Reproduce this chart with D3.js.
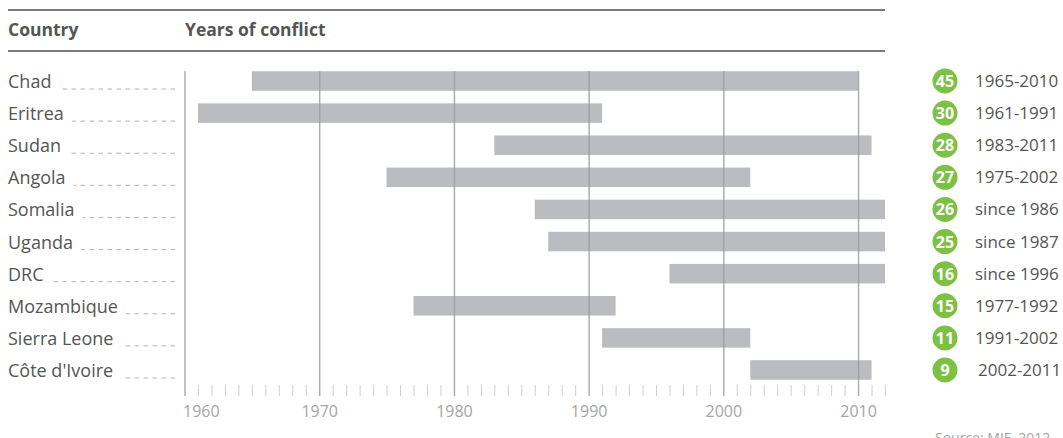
<!DOCTYPE html>
<html>
<head>
<meta charset="utf-8">
<script src="https://cdn.jsdelivr.net/npm/d3@7"></script>
<style>
  html, body { margin: 0; padding: 0; background: #fff; }
  svg { display: block; font-family: 'Open Sans', 'Noto Sans', sans-serif; }
</style>
</head>
<body>
<div id="chart"></div>
<script>
// Conflict data
const countries = ['Chad', 'Eritrea', 'Sudan', 'Angola', 'Somalia', 'Uganda', 'DRC', 'Mozambique', 'Sierra Leone', "Côte d'Ivoire"];
const startYears = [1965, 1961, 1983, 1975, 1986, 1987, 1996, 1977, 1991, 2002];
const endYears = [2010, 1991, 2011, 2002, 2012, 2012, 2012, 1992, 2002, 2011];
const durations = [45, 30, 28, 27, 26, 25, 16, 15, 11, 9];
const periodLabels = ['1965-2010', '1961-1991', '1983-2011', '1975-2002', 'since 1986', 'since 1987', 'since 1996', '1977-1992', '1991-2002', '2002-2011'];
const decadeTicks = [1960, 1970, 1980, 1990, 2000, 2010];
const yearTicks = d3.range(1960, 2013);

const width = 1063, height = 438;
const rows = countries.map((c, i) => ({
  country: c, start: startYears[i], end: endYears[i],
  years: durations[i], period: periodLabels[i]
}));

const svg = d3.select('#chart').append('svg')
  .attr('width', width)
  .attr('height', height);

const x = d3.scaleLinear().domain([1960, 2012]).range([184.5, 885]);
const y = d3.scalePoint().domain(countries).range([81, 370]);
const barH = 19.5;
const textColor = '#555';

// Header rules
[10, 51].forEach(yy => {
  svg.append('line')
    .attr('x1', 8).attr('x2', 885)
    .attr('y1', yy).attr('y2', yy)
    .attr('stroke', '#7a7a7a')
    .attr('stroke-width', 2);
});

// Header text
svg.append('text').attr('x', 8).attr('y', 36)
  .attr('font-size', 17.5).attr('font-weight', 700).attr('fill', textColor)
  .text('Country');
svg.append('text').attr('x', 185).attr('y', 36)
  .attr('font-size', 17.5).attr('font-weight', 700).attr('fill', textColor)
  .text('Years of conflict');

// Country labels with dashed leaders
const labels = svg.append('g').selectAll('g.label')
  .data(rows).enter().append('g').attr('class', 'label');

labels.append('text')
  .attr('x', 8)
  .attr('y', d => y(d.country) + 7)
  .attr('font-size', 18)
  .attr('fill', textColor)
  .text(d => d.country)
  .each(function(d) { d.textEnd = 8 + this.getComputedTextLength(); });

labels.append('line')
  .attr('x1', 175)
  .attr('x2', d => d.textEnd + 8)
  .attr('y1', d => y(d.country) + 8)
  .attr('y2', d => y(d.country) + 8)
  .attr('stroke', '#b4b4b4')
  .attr('stroke-width', 1)
  .attr('stroke-dasharray', '4.5,4.5');

// Bars
svg.append('g').selectAll('rect.bar')
  .data(rows).enter().append('rect')
  .attr('class', 'bar')
  .attr('x', d => x(d.start))
  .attr('y', d => y(d.country) - barH / 2)
  .attr('width', d => x(d.end) - x(d.start))
  .attr('height', barH)
  .attr('fill', '#bbbcc0');

// Decade gridlines (over the bars)
const grid = svg.append('g')
  .attr('transform', 'translate(0,71)')
  .call(d3.axisBottom(x).tickValues(decadeTicks).tickSize(325).tickFormat(''));
grid.select('.domain').remove();
grid.selectAll('line').attr('stroke', '#9a9a9c').attr('stroke-opacity', 0.8).attr('stroke-width', 1.5);

// Minor year ticks
const minor = svg.append('g')
  .attr('transform', 'translate(0,385)')
  .call(d3.axisBottom(x).tickValues(yearTicks.filter(v => v % 10 !== 0)).tickSize(11).tickFormat(''));
minor.select('.domain').remove();
minor.selectAll('line').attr('stroke', '#cfcfcf').attr('stroke-width', 1);

// Year labels
const lab = svg.append('g')
  .attr('transform', 'translate(0,400)')
  .call(d3.axisBottom(x).tickValues(decadeTicks).tickSize(0).tickPadding(6).tickFormat(d3.format('d')));
lab.select('.domain').remove();
lab.selectAll('text')
  .attr('font-size', 16)
  .attr('font-family', "'Open Sans', 'Noto Sans', sans-serif")
  .attr('fill', '#a5a5a5')
  .attr('text-anchor', d => d === 1960 ? 'start' : 'middle')
  .attr('dx', d => d === 1960 ? -2 : 0);

// Legend: duration badges and periods
const legend = svg.append('g').selectAll('g.legend')
  .data(rows).enter().append('g').attr('class', 'legend');

legend.append('circle')
  .attr('cx', 945)
  .attr('cy', d => y(d.country))
  .attr('r', 12.5)
  .attr('fill', '#7cc143');

legend.append('text')
  .attr('x', 945)
  .attr('y', d => y(d.country) + 6)
  .attr('text-anchor', 'middle')
  .attr('font-size', 16)
  .attr('font-weight', 700)
  .attr('fill', '#fff')
  .text(d => d.years);

legend.append('text')
  .attr('x', d => d.years < 10 ? 978 : 975)
  .attr('y', d => y(d.country) + 6)
  .attr('font-size', 17)
  .attr('fill', textColor)
  .text(d => d.period);

// Source (partly cropped at the bottom edge, as in the original)
svg.append('text')
  .attr('x', 935).attr('y', 443)
  .attr('font-size', 14)
  .attr('fill', '#a5a5a5')
  .text('Source: MIF, 2012');
</script>
</body>
</html>
